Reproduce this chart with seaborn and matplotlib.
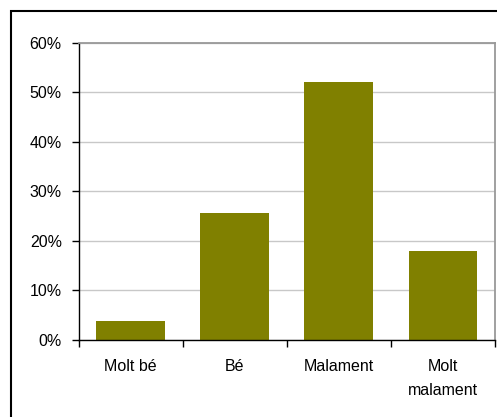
import matplotlib
matplotlib.use('Agg')
import matplotlib.pyplot as plt
import seaborn as sns
import pandas as pd
from matplotlib.patches import Rectangle
from matplotlib.ticker import FuncFormatter, MultipleLocator

categories = ['Molt bé', 'Bé', 'Malament', 'Molt\nmalament']
values = [3.9, 25.6, 52.0, 17.9]

sns.set_style('white')
plt.rcParams['font.family'] = ['Liberation Sans', 'DejaVu Sans']

df = pd.DataFrame({'cat': categories, 'val': values})

fig = plt.figure(figsize=(4.97, 4.17), dpi=100)
ax = fig.add_axes([78.5 / 497, 1 - 340 / 417, (495 - 78.5) / 497, (340 - 42.7) / 417])

sns.barplot(data=df, x='cat', y='val', color='#808000', width=0.66,
            saturation=1, linewidth=0, ax=ax)

ax.set_ylim(0, 60)
ax.set_xlim(-0.5, 3.5)
ax.yaxis.set_major_locator(MultipleLocator(10))
ax.yaxis.set_major_formatter(FuncFormatter(lambda v, p: f'{int(v)}%'))
ax.grid(axis='y', color='#c8c8c8', linewidth=1)
ax.set_axisbelow(True)
ax.set_xlabel('')
ax.set_ylabel('')

for s in ['left', 'bottom']:
    ax.spines[s].set_color('black')
    ax.spines[s].set_linewidth(1)
for s in ['top', 'right']:
    ax.spines[s].set_color('#999999')
    ax.spines[s].set_linewidth(1.3)

# category boundary ticks on the x axis
ax.set_xticks([-0.5, 0.5, 1.5, 2.5, 3.5], minor=False)
ax.set_xticklabels([])
ax.set_xticks([0, 1, 2, 3], minor=True)
ax.set_xticklabels(categories, minor=True, fontsize=11.5, linespacing=1.75)
ax.tick_params(axis='x', which='major', direction='out', length=5, width=1, color='black', bottom=True)
ax.tick_params(axis='x', which='minor', length=0, pad=14, labelcolor='black')
ax.tick_params(axis='y', direction='out', length=5, width=1, color='black', left=True,
               labelsize=11.5, pad=7, labelcolor='black')
for lbl in ax.get_xticklabels(minor=True):
    lbl.set_verticalalignment('top')

fig.patches.append(Rectangle((11 / 497, -0.1), 1.2, 1 - 11 / 417 + 0.1,
                             transform=fig.transFigure, fill=False,
                             edgecolor='black', linewidth=1.5, zorder=0))

fig.savefig('out.png', dpi=100)
